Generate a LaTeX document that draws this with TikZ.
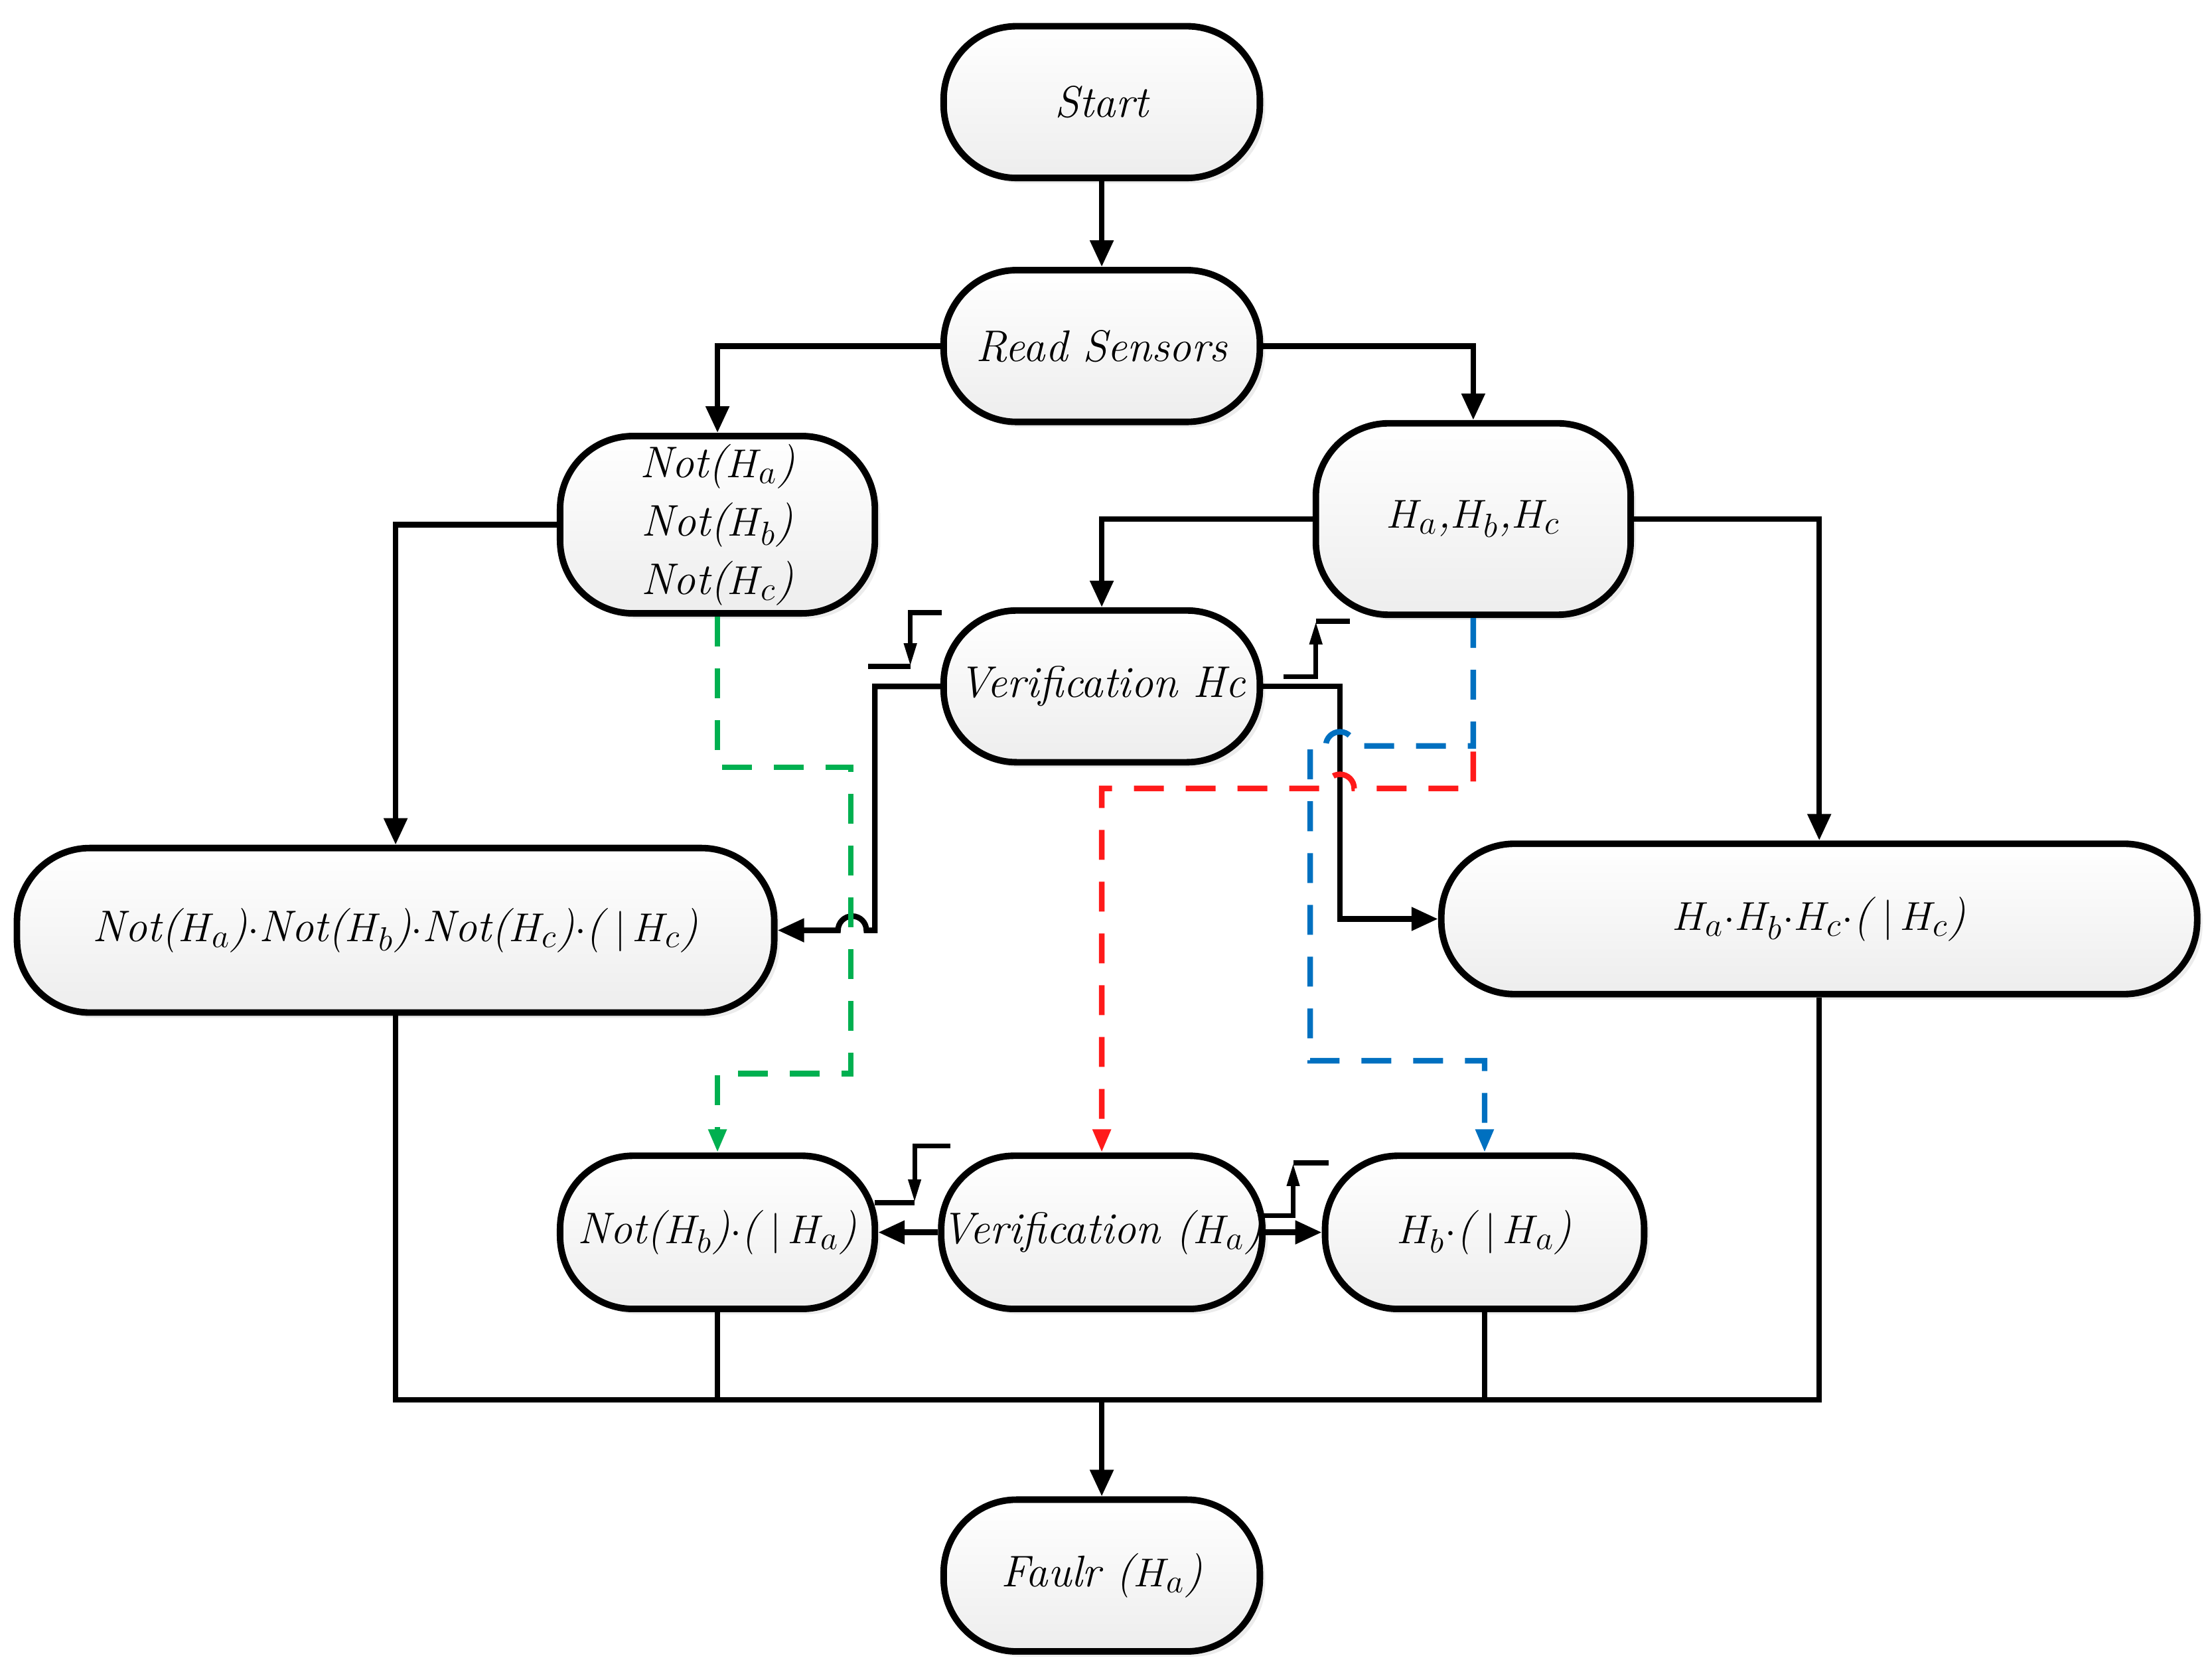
\documentclass[tikz,border=0pt]{standalone}
\usepackage{tikz}
\usetikzlibrary{arrows.meta,shadows}
\definecolor{gr}{HTML}{00B050}
\definecolor{rd}{HTML}{FF1A1A}
\definecolor{bl}{HTML}{0070C0}
\tikzset{
  blk/.style={draw,line width=2.8pt,rounded corners=1.1cm,top color=white,bottom color=black!7,
    drop shadow={shadow xshift=0.08cm,shadow yshift=-0.08cm,fill=black!15},
    font=\fontsize{19}{25}\selectfont\itshape,align=center,inner sep=0pt},
  ln/.style={line width=2.4pt},
  arr/.style={ln,-{Triangle[length=0.4cm,width=0.34cm]}},
  dsh/.style={line width=2.4pt,dash pattern=on 0.45cm off 0.33cm},
  stp/.style={line width=2pt,-{Triangle[length=0.35cm,width=0.18cm]}}
}
\begin{document}
\begin{tikzpicture}[x=0.021365cm,y=-0.021365cm]
\useasboundingbox (0,0) rectangle (1560,1173);
\node[blk,minimum width=223*0.21365mm,minimum height=107*0.21365mm] (start) at (777,72){Start};
\node[blk,minimum width=223*0.21365mm,minimum height=107*0.21365mm] (read) at (777,244){Read Sensors};
\node[blk,minimum width=222*0.21365mm,minimum height=125*0.21365mm] (noth) at (506,370){Not($H_a$)\\Not($H_b$)\\Not($H_c$)};
\node[blk,minimum width=222*0.21365mm,minimum height=135*0.21365mm] (habc) at (1039,366){$H_a$,$H_b$,$H_c$};
\node[blk,minimum width=223*0.21365mm,minimum height=107*0.21365mm] (verc) at (777,484){Verification Hc};
\node[blk,minimum width=534*0.21365mm,minimum height=116*0.21365mm] (left) at (279,656){Not($H_a$)$\cdot$Not($H_b$)$\cdot$Not($H_c$)$\cdot$($\;\vert\, H_c$)};
\node[blk,minimum width=533*0.21365mm,minimum height=106*0.21365mm] (right) at (1283,648){$H_a$$\cdot$$H_b$$\cdot$$H_c$$\cdot$($\;\vert\, H_c$)};
\node[blk,minimum width=222*0.21365mm,minimum height=108*0.21365mm] (nothb) at (506,869){Not($H_b$)$\cdot$($\;\vert\, H_a$)};
\node[blk,minimum width=223*0.21365mm,minimum height=108*0.21365mm] (vera) at (777,869){Verification ($H_a$)};
\node[blk,minimum width=225*0.21365mm,minimum height=108*0.21365mm] (hbha) at (1047,869){$H_b$$\cdot$($\;\vert\, H_a$)};
\node[blk,minimum width=223*0.21365mm,minimum height=107*0.21365mm] (faul) at (777,1111){Faulr ($H_a$)};

\draw[arr] (start) -- (read);
\draw[arr] (read.west) -| (noth.north);
\draw[arr] (read.east) -| (habc.north);
\draw[arr] (noth.west) -| (left.north);
\draw[arr] (habc.west) -| (verc.north);
\draw[arr] (habc.east) -| (right.north);
\draw[arr] (verc.west) -- (617,484) -- (617,656) -- (611,656) arc[start angle=0,end angle=-180,radius=10] -- (left.east);
\draw[arr] (verc.east) -- (945,484) -- (945,648) -- (right.west);
\draw[arr] (vera) -- (nothb);
\draw[arr] (vera) -- (hbha);

% collecting lines
\draw[ln] (left.south) |- (right.south|-0,987) -- (right.south);
\draw[ln] (nothb.south) -- (506,987);
\draw[ln] (hbha.south) -- (1047,987);
\coordinate (m) at (777,987);
\draw[arr] (m) -- (faul);

% step symbols
\draw[stp] (664,432) -- (642,432) -- (642,470);
\draw[ln] (642,470) -- (612,470);
\draw[stp] (905,477) -- (928,477) -- (928,438);
\draw[ln] (928,438) -- (952,438);
\draw[stp] (670,808) -- (645,808) -- (645,848);
\draw[ln] (645,848) -- (617,848);
\draw[stp] (888,857) -- (912,857) -- (912,820);
\draw[ln] (912,820) -- (937,820);

% dashed paths
\draw[dsh,gr,-{Triangle[length=0.35cm,width=0.26cm]}] (noth.south) -- (506,541) -- (600,541) -- (600,757) -- (506,757) -- (nothb.north);
\draw[dsh,bl,-{Triangle[length=0.35cm,width=0.26cm]}] (habc.south) -- (1039,526) -- (955,526) arc[start angle=0,end angle=-180,radius=10] -- (924,526) -- (924,748) -- (1047,748) -- (hbha.north);
\draw[dsh,rd,-{Triangle[length=0.35cm,width=0.26cm]}] (1039,530) -- (1039,556) -- (955,556) arc[start angle=0,end angle=-180,radius=10] -- (930,556) -- (918,556) -- (777,556) -- (vera.north);
\end{tikzpicture}
\end{document}
